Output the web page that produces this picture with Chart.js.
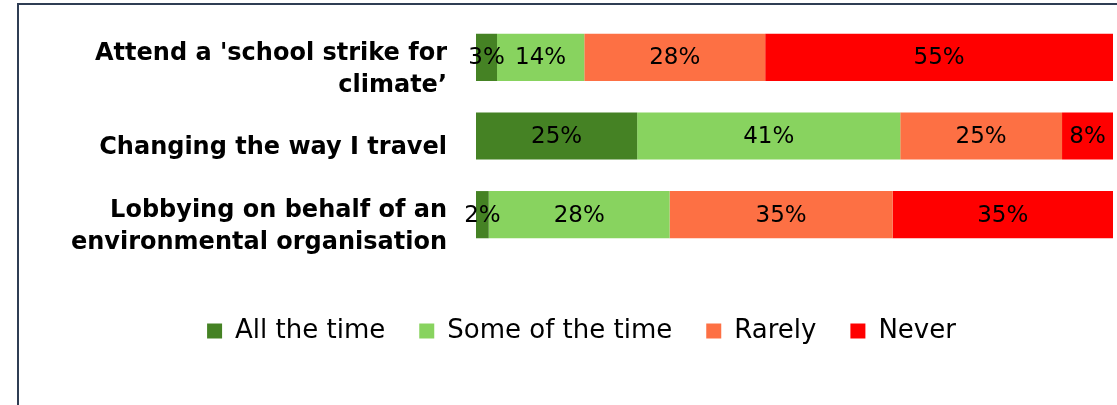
<!DOCTYPE html>
<html>
<head>
<meta charset="utf-8">
<script src="https://cdn.jsdelivr.net/npm/chart.js@4.4.1/dist/chart.umd.min.js"></script>
<style>
  html, body { margin: 0; padding: 0; background: #fff; }
  #wrap { position: relative; width: 1117px; height: 405px; overflow: hidden; }
  #frame {
    position: absolute; left: 17px; top: 3px; width: 1200px; height: 500px;
    border-left: 2px solid #2f3d54; border-top: 2px solid #2f3d54;
    pointer-events: none;
  }
</style>
</head>
<body>
<div id="wrap">
  <canvas id="chart" width="1117" height="405"></canvas>
  <div id="frame"></div>
</div>
<script>
'use strict';

// categories (rows of the chart)
const categories = [
  ['Attend a \'school strike for', 'climate\u2019'],
  'Changing the way I travel',
  ['Lobbying on behalf of an', 'environmental organisation']
];

// percentages (labels show them rounded)
const allTheTime = [3.3, 25.3, 2.0];
const someOfTheTime = [13.7, 41.3, 28.4];
const rarely = [28.4, 25.4, 35.0];
const never = [54.6, 8.0, 34.6];

const seriesNames = ['All the time', 'Some of the time', 'Rarely', 'Never'];
const seriesColors = ['#458224', '#88d35f', '#fd7044', '#ff0000'];

// draws the % text in the middle of every bar piece
const barLabels = {
  id: 'barLabels',
  afterDatasetsDraw(chart) {
    const ctx = chart.ctx;
    ctx.save();
    ctx.font = '23px "DejaVu Sans"';
    ctx.fillStyle = '#000';
    ctx.textAlign = 'center';
    ctx.textBaseline = 'middle';
    chart.data.datasets.forEach((ds, i) => {
      const meta = chart.getDatasetMeta(i);
      meta.data.forEach((bar, j) => {
        const mid = (bar.x + bar.base) / 2;
        ctx.fillText(Math.round(ds.data[j]) + '%', mid, bar.y + 1);
      });
    });
    ctx.restore();
  }
};

const canvasEl = document.getElementById('chart');

new Chart(canvasEl, {
  type: 'bar',
  data: {
    labels: categories,
    datasets: [
      { label: seriesNames[0], data: allTheTime, backgroundColor: seriesColors[0] },
      { label: seriesNames[1], data: someOfTheTime, backgroundColor: seriesColors[1] },
      { label: seriesNames[2], data: rarely, backgroundColor: seriesColors[2] },
      { label: seriesNames[3], data: never, backgroundColor: seriesColors[3] }
    ]
  },
  options: {
    indexAxis: 'y',
    responsive: false,
    animation: false,
    layout: { padding: { top: 18, right: 4, bottom: 51, left: 50 } },
    datasets: {
      bar: { barPercentage: 0.75, categoryPercentage: 0.8, borderWidth: 0 }
    },
    scales: {
      x: {
        stacked: true,
        min: 0,
        max: 100,
        grid: { display: false },
        border: { display: false },
        ticks: { display: false },
        afterFit: (axis) => { axis.height = 30; }
      },
      y: {
        stacked: true,
        grid: { display: false, drawTicks: false },
        border: { display: false },
        ticks: {
          color: '#000',
          padding: 29,
          autoSkip: false,
          labelOffset: 12,
          font: { family: 'DejaVu Sans', size: 24, weight: 'bold', lineHeight: 1.33 }
        },
        afterFit: (axis) => {
          axis.width = 426;
          axis.paddingTop = 0;
          axis.paddingBottom = 0;
        }
      }
    },
    plugins: {
      legend: {
        position: 'bottom',
        labels: {
          color: '#000',
          boxWidth: 15,
          boxHeight: 15,
          padding: 34,
          font: { family: 'DejaVu Sans', size: 26 }
        }
      },
      tooltip: { enabled: false }
    }
  },
  plugins: [barLabels]
});
</script>
</body>
</html>
